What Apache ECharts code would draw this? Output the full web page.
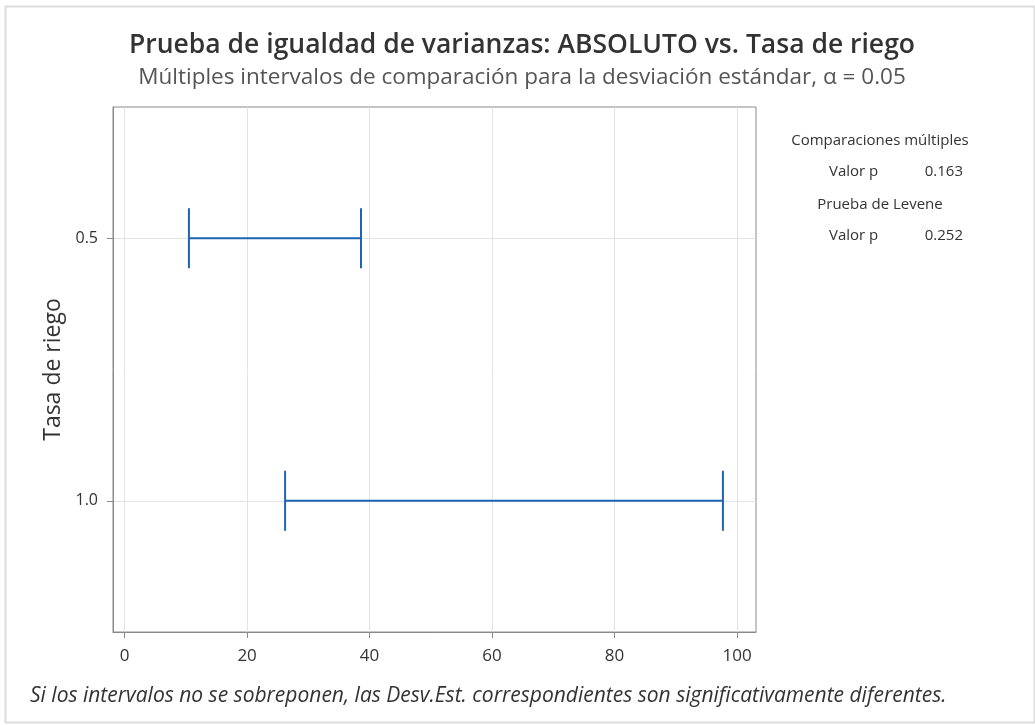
<!DOCTYPE html>
<html>
<head>
<meta charset="utf-8">
<script src="https://cdn.jsdelivr.net/npm/echarts@6/dist/echarts.min.js"></script>
<style>
  html, body { margin: 0; padding: 0; background: #ffffff; }
  #chart { width: 1035px; height: 725px; }
</style>
</head>
<body>
<div id="chart"></div>
<script>
// Irrigation-rate groups (vertical axis)
const groupValues = [0.5, 1.0];
const groupLabels = ['0.5', '1.0'];
// Bonferroni intervals for the standard deviation of ABSOLUTO
const lowerBounds = [10.5, 26.2];
const upperBounds = [38.6, 97.7];
// Horizontal axis tick labels
const xTicks = [0, 20, 40, 60, 80, 100];
// Side panel test results
const testNames = ['Comparaciones múltiples', 'Prueba de Levene'];
const pValues = ['0.163', '0.252'];

const FONT = '"Open Sans", "Noto Sans", sans-serif';
const BLUE = '#1f64b4';
const TEXT = '#333333';

const seriesData = groupValues.map((g, i) => [g, lowerBounds[i], upperBounds[i]]);

const chart = echarts.init(document.getElementById('chart'), null, { renderer: 'canvas' });

// One interval: horizontal segment with a vertical cap at each end
function renderInterval(params, api) {
  const y = api.value(0);
  const lo = api.coord([api.value(1), y]);
  const hi = api.coord([api.value(2), y]);
  const cap = 30;
  const style = { stroke: BLUE, lineWidth: 2, fill: null };
  return {
    type: 'group',
    children: [
      { type: 'line', shape: { x1: lo[0], y1: lo[1], x2: hi[0], y2: hi[1] }, style },
      { type: 'line', shape: { x1: lo[0], y1: lo[1] - cap, x2: lo[0], y2: lo[1] + cap }, style },
      { type: 'line', shape: { x1: hi[0], y1: hi[1] - cap, x2: hi[0], y2: hi[1] + cap }, style }
    ]
  };
}

// Side panel: a heading per test followed by its p-value row
const panelFont = { fontFamily: FONT, fontSize: 15, fill: TEXT };
const panelTop = 141;
const panelStep = 32;
const panelGraphics = [];
testNames.forEach((name, i) => {
  const yHead = panelTop + i * 2 * panelStep;
  const yRow = yHead + 31;
  panelGraphics.push(
    { type: 'text', x: 880, y: yHead, silent: true,
      style: Object.assign({ text: name, align: 'center', verticalAlign: 'middle' }, panelFont) },
    { type: 'text', x: 829, y: yRow, silent: true,
      style: Object.assign({ text: 'Valor p', align: 'left', verticalAlign: 'middle' }, panelFont) },
    { type: 'text', x: 963, y: yRow, silent: true,
      style: Object.assign({ text: pValues[i], align: 'right', verticalAlign: 'middle' }, panelFont) }
  );
});

const option = {
  backgroundColor: '#ffffff',
  animation: false,
  title: [
    {
      text: 'Prueba de igualdad de varianzas: ABSOLUTO vs. Tasa de riego',
      subtext: 'Múltiples intervalos de comparación para la desviación estándar, α = 0.05',
      left: 517,
      textAlign: 'center',
      top: 27,
      itemGap: 7,
      textStyle: { fontFamily: FONT, fontSize: 26.5, fontWeight: 600, color: TEXT },
      subtextStyle: { fontFamily: FONT, fontSize: 22.5, fontWeight: 'normal', color: '#555555' }
    }
  ],
  grid: {
    left: 113, right: 279, top: 107, bottom: 93,
    show: true, borderColor: '#8a8a8a', borderWidth: 1, backgroundColor: '#ffffff'
  },
  xAxis: {
    type: 'value',
    min: -1.9,
    max: 103.1,
    axisLine: { show: true, onZero: false, lineStyle: { color: '#8a8a8a' } },
    axisTick: { show: true, length: 6, lineStyle: { color: '#8a8a8a' }, customValues: xTicks },
    axisLabel: {
      customValues: xTicks, fontFamily: FONT, fontSize: 17, color: TEXT, margin: 16,
      formatter: v => String(v)
    },
    splitLine: { show: true, lineStyle: { color: '#e3e3e3', width: 1 } }
  },
  yAxis: {
    type: 'value',
    name: 'Tasa de riego',
    nameLocation: 'middle',
    nameGap: 45,
    nameRotate: 90,
    nameTextStyle: { fontFamily: FONT, fontSize: 23, color: TEXT },
    min: 0.25,
    max: 1.25,
    inverse: true,
    axisLine: { show: true, onZero: false, lineStyle: { color: '#8a8a8a' } },
    axisTick: { show: true, length: 6, lineStyle: { color: '#8a8a8a' }, customValues: groupValues },
    axisLabel: {
      customValues: groupValues, fontFamily: FONT, fontSize: 16, color: TEXT, margin: 15,
      formatter: v => groupLabels[groupValues.indexOf(v)]
    },
    splitLine: { show: true, lineStyle: { color: '#e3e3e3', width: 1 } }
  },
  series: [
    {
      type: 'custom',
      renderItem: renderInterval,
      encode: { x: [1, 2], y: 0 },
      data: seriesData,
      clip: false
    }
  ],
  graphic: [
    {
      type: 'rect',
      left: 3, top: 4,
      shape: { width: 1029, height: 716 },
      style: { fill: null, stroke: '#dcdcdc', lineWidth: 2 },
      silent: true
    },
    ...panelGraphics,
    {
      type: 'text',
      left: 30, top: 686,
      style: {
        text: 'Si los intervalos no se sobreponen, las Desv.Est. correspondientes son significativamente diferentes.',
        fontFamily: FONT, fontSize: 21, fontStyle: 'italic', fill: TEXT
      },
      silent: true
    }
  ]
};

chart.setOption(option);
</script>
</body>
</html>
